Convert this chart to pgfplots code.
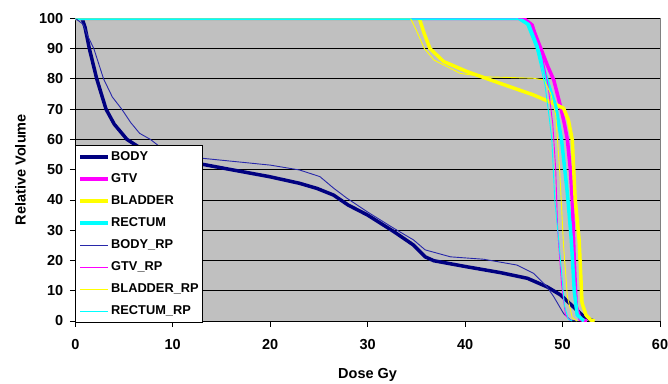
\documentclass[border=0pt]{standalone}
\usepackage{fontspec}
\setmainfont{Liberation Sans}
\usepackage{pgfplots}
\pgfplotsset{compat=1.18}
\definecolor{plotbg}{RGB}{192,192,192}
\definecolor{navyc}{RGB}{0,0,128}
\definecolor{navyl}{RGB}{40,40,170}
\definecolor{magc}{RGB}{255,0,255}
\definecolor{yelc}{RGB}{255,255,0}
\definecolor{cyac}{RGB}{0,255,255}
\begin{document}
\begin{tikzpicture}
\path[use as bounding box] (0,0) rectangle (668pt,383pt);
\begin{axis}[
  at={(75.3pt,62pt)}, anchor=south west,
  scale only axis, width=584.7pt, height=302.7pt,
  xmin=0, xmax=60, ymin=0, ymax=100,
  xtick={0,10,...,60}, ytick={0,10,...,100},
  axis x line*=bottom, axis y line*=left,
  axis line style={black,-, line width=0.8pt},
  axis background/.style={fill=plotbg, draw={rgb,255:red,128;green,128;blue,128}, line width=1pt},
  ymajorgrids, grid style={black, line width=0.8pt},
  tick align=outside, major tick length=5.5pt,
  tick style={black, line width=0.8pt},
  /pgf/number format/assume math mode=true,
  ticklabel style={font=\bfseries\fontsize{14.5}{16}\selectfont},
  xticklabel shift=9pt,
  yticklabel shift=3pt,
  xlabel={Dose Gy}, ylabel={Relative Volume},
  label style={font=\bfseries\fontsize{14.5}{16}\selectfont},
  xlabel style={at={(axis description cs:0.5,-0.178)}, anchor=center},
  ylabel style={at={(axis description cs:-0.094,0.5)}, anchor=center},
  legend style={at={(axis cs:0,0)}, anchor=south west, yshift=-2pt,
    draw=black, line width=0.8pt, fill=white,
    font=\bfseries\fontsize{12.8}{14}\selectfont,
    nodes={inner sep=1pt, text height=9pt, text depth=2pt, anchor=west},
    row sep=9pt, inner xsep=3pt, inner ysep=5pt},
  legend cell align=left,
  legend image code/.code={\draw[#1] (0pt,0pt) -- (28pt,0pt);},
  every axis plot/.append style={line join=round},
  clip=true,
]
\addplot[navyc, line width=3.5pt] coordinates {
(0,100) (0.7,100) (1.0,97) (1.44,90) (2.2,80) (3.15,70) (4.0,65) (5.3,60) (6.5,57.5) (7.5,56) (9,54.5) (11,53) (13,51.8) (16,50) (19.9,47.7) (23,45.5) (24.8,43.8) (26.5,41.6) (28,38.3) (30,35.0) (32.7,29.5) (34.7,25.1) (35.9,21.2) (36.8,19.9) (40.2,17.9) (43.6,16.0) (46.4,14.1) (48.4,11.3) (49.8,8.6) (51.1,4.7) (52.2,1.4) (53.2,0)
};
\addlegendentry{BODY}
\addplot[magc, line width=3.5pt] coordinates {
(0,100) (46,100) (46.8,98) (47.7,90.6) (48.5,84) (49.1,79.6) (49.8,70.8) (50.2,65) (50.5,59.8) (50.8,50) (51.0,40) (51.2,20) (51.4,5) (51.8,0.5) (52.5,0)
};
\addlegendentry{GTV}
\addplot[yelc, line width=3.5pt] coordinates {
(0,100) (35.3,100) (35.8,95) (36.4,90) (37.8,85.7) (40.2,82.4) (43.6,78.5) (47,74.7) (49.4,71.4) (50.1,70.3) (50.6,66.4) (51.0,59.8) (51.3,40) (51.7,26.8) (52.0,6) (52.4,2) (52.9,0.3) (53.3,0)
};
\addlegendentry{BLADDER}
\addplot[cyac, line width=3.5pt] coordinates {
(0,100) (45.5,100) (46.5,98) (47.4,90.6) (48.4,79.6) (49.3,70.8) (49.9,59.8) (50.5,42) (50.9,26.8) (51.2,10) (51.5,2) (52.2,0)
};
\addlegendentry{RECTUM}
\addplot[navyl, line width=0.9pt] coordinates {
(0,100) (0.8,98) (1.3,94) (1.9,90) (2.9,80) (3.8,74) (4.76,70) (5.7,65.5) (6.6,62) (7.7,60) (8.9,57) (10.5,55.5) (12.9,53.8) (16,52.8) (20,51.5) (23,49.9) (25.1,47.7) (26.5,43.9) (27.9,40.5) (29.95,36.1) (32.7,30.6) (34.7,26.8) (35.9,23.5) (38.5,21.2) (41.9,20.4) (45.3,18.5) (47.0,15.8) (48.4,11.3) (49.1,8.0) (50.1,2.5) (50.8,0.3) (51.5,0)
};
\addlegendentry{BODY\_RP}
\addplot[magc, line width=0.9pt] coordinates {
(0,100) (46,100) (47,98) (47.9,88) (48.5,78) (49.0,65) (49.3,50) (49.5,30) (49.9,12) (50.3,2) (50.8,0)
};
\addlegendentry{GTV\_RP}
\addplot[yelc, line width=0.9pt] coordinates {
(0,100) (34.4,100) (35.0,96) (35.8,90.1) (36.8,86.2) (39.5,81.8) (41.9,80.7) (47.0,80.2) (48.1,79.6) (48.8,75) (49.3,68) (49.7,50) (50.1,25) (50.5,8) (51,1) (51.5,0)
};
\addlegendentry{BLADDER\_RP}
\addplot[cyac, line width=0.9pt] coordinates {
(0,100) (45.3,100) (46.3,98) (47.3,90) (48.2,78) (48.6,68) (48.9,60) (49.2,40) (49.6,27) (50.2,5) (50.6,0.5) (51,0)
};
\addlegendentry{RECTUM\_RP}
\end{axis}
\end{tikzpicture}
\end{document}
